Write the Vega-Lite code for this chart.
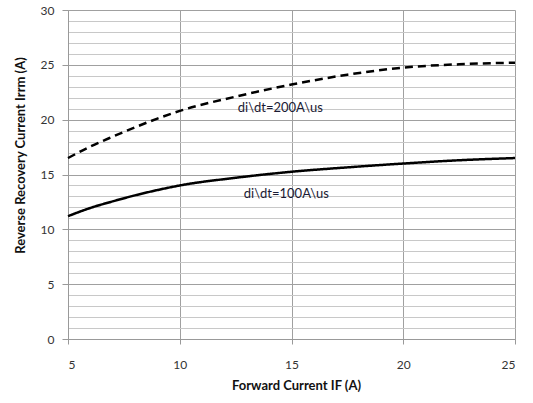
{
  "$schema": "https://vega.github.io/schema/vega-lite/v6.json",
  "width": 447,
  "height": 329,
  "autosize": {"type": "none"},
  "padding": {"left": 68, "top": 10, "right": 18, "bottom": 64},
  "background": "white",
  "config": {"view": {"stroke": null}, "font": "Lato"},
  "data": {"values": [
      {"IF": 5, "Irrm": 16.5, "series": "200"},
      {"IF": 6, "Irrm": 17.55, "series": "200"},
      {"IF": 7, "Irrm": 18.45, "series": "200"},
      {"IF": 8, "Irrm": 19.3, "series": "200"},
      {"IF": 9, "Irrm": 20.1, "series": "200"},
      {"IF": 10, "Irrm": 20.8, "series": "200"},
      {"IF": 12.5, "Irrm": 22.1, "series": "200"},
      {"IF": 15, "Irrm": 23.2, "series": "200"},
      {"IF": 17.5, "Irrm": 24.1, "series": "200"},
      {"IF": 20, "Irrm": 24.75, "series": "200"},
      {"IF": 22.5, "Irrm": 25.05, "series": "200"},
      {"IF": 25, "Irrm": 25.2, "series": "200"},
      {"IF": 5, "Irrm": 11.2, "series": "100"},
      {"IF": 6, "Irrm": 11.95, "series": "100"},
      {"IF": 7, "Irrm": 12.55, "series": "100"},
      {"IF": 8, "Irrm": 13.1, "series": "100"},
      {"IF": 9, "Irrm": 13.58, "series": "100"},
      {"IF": 10, "Irrm": 14.0, "series": "100"},
      {"IF": 12.5, "Irrm": 14.7, "series": "100"},
      {"IF": 15, "Irrm": 15.25, "series": "100"},
      {"IF": 17.5, "Irrm": 15.65, "series": "100"},
      {"IF": 20, "Irrm": 16.0, "series": "100"},
      {"IF": 22.5, "Irrm": 16.3, "series": "100"},
      {"IF": 25, "Irrm": 16.5, "series": "100"},
      {"IF": 14.5, "Irrm": 21.06, "label": "di\\dt=200A\\us"},
      {"IF": 14.77, "Irrm": 13.2, "label": "di\\dt=100A\\us"}
  ]},
  "encoding": {
    "x": {
      "field": "IF", "type": "quantitative",
      "scale": {"domain": [5, 25], "nice": false, "zero": false},
      "axis": {
        "values": [5, 10, 15, 20, 25],
        "title": "Forward Current IF (A)",
        "titleFont": "Lato", "titleFontSize": 13, "titleFontWeight": "bold", "titleColor": "#111",
        "titleX": 228, "titleY": 46, "titleBaseline": "middle",
        "labelFont": "Lato", "labelFontSize": 12, "labelColor": "#333", "labelPadding": 15,
        "tickSize": 5, "tickColor": "#999", "domainColor": "#999",
        "grid": true, "gridColor": "#a0a0a0", "gridWidth": 1
      }
    },
    "y": {
      "field": "Irrm", "type": "quantitative",
      "scale": {"domain": [0, 30], "nice": false},
      "axis": {
        "values": [0,1,2,3,4,5,6,7,8,9,10,11,12,13,14,15,16,17,18,19,20,21,22,23,24,25,26,27,28,29,30],
        "labelExpr": "datum.value % 5 === 0 ? datum.label : ''",
        "labelOverlap": false,
        "title": "Reverse Recovery Current Irrm (A)",
        "titleFont": "Lato", "titleFontSize": 13, "titleFontWeight": "bold", "titleColor": "#111",
        "titleX": -48, "titleY": 145, "titleAngle": -90, "titleBaseline": "middle", "titleAlign": "center",
        "labelFont": "Lato", "labelFontSize": 12, "labelColor": "#333", "labelPadding": 8,
        "tickSize": {"condition": {"test": "datum.value % 5 === 0", "value": 6}, "value": 0},
        "tickColor": "#999", "domainColor": "#999",
        "grid": true,
        "gridColor": {"condition": {"test": "datum.value % 5 === 0", "value": "#a0a0a0"}, "value": "#c8c8c8"},
        "gridWidth": 1
      }
    }
  },
  "layer": [
    {
      "transform": [{"filter": "datum.series != null"}],
      "mark": {"type": "line", "interpolate": "monotone", "strokeWidth": 2.5, "color": "black"},
      "encoding": {
        "strokeDash": {
          "field": "series", "type": "nominal",
          "scale": {"domain": ["100", "200"], "range": [[1, 0], [8, 5]]},
          "legend": null
        }
      }
    },
    {
      "transform": [{"filter": "datum.label != null"}],
      "mark": {"type": "text", "font": "Lato", "fontSize": 13, "color": "#1a1a33", "align": "center", "baseline": "middle"},
      "encoding": {
        "text": {"field": "label"}
      }
    }
  ]
}
